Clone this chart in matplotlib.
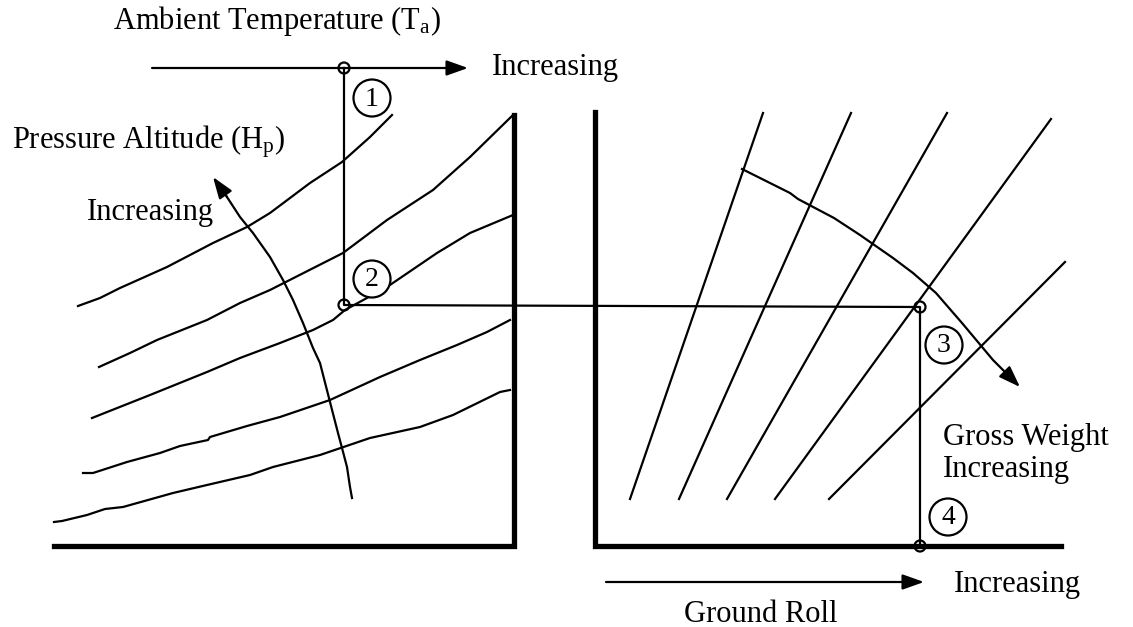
import matplotlib
matplotlib.use("Agg")
import matplotlib.pyplot as plt
from matplotlib.patches import Circle

plt.rcParams['font.family'] = ['Liberation Serif', 'DejaVu Serif']
plt.rcParams['mathtext.fontset'] = 'custom'
plt.rcParams['mathtext.rm'] = 'Liberation Serif'
plt.rcParams['mathtext.it'] = 'Liberation Serif:italic'

# --- data (pixel space of the sketch, y grows downwards) ---
# pressure altitude curves, left panel (top to bottom)
hp_curves = [
    ([78, 100, 120, 167, 213, 247, 270, 310, 342, 370, 392],
     [306, 298, 288, 267, 243, 227, 213, 183, 162, 137, 115]),
    ([99, 130, 157, 187, 207, 240, 270, 343, 387, 433, 470, 513],
     [367, 353, 340, 328, 320, 303, 290, 253, 220, 190, 157, 115]),
    ([92, 150, 207, 240, 280, 313, 333, 345, 387, 437, 470, 513],
     [418, 395, 372, 358, 343, 330, 320, 310, 287, 253, 233, 215]),
    ([83, 93, 127, 160, 180, 208, 210, 247, 280, 330, 380, 420, 457, 487, 510],
     [473, 473, 462, 453, 446, 440, 437, 426, 417, 400, 377, 360, 345, 332, 320]),
    ([54, 62, 87, 105, 123, 173, 207, 250, 273, 320, 370, 420, 453, 500, 510],
     [522, 521, 515, 509, 507, 493, 485, 475, 467, 455, 438, 427, 415, 392, 390]),
]
# "pressure altitude increasing" arrow, tail to head
hp_arrow_x = [352, 350, 347, 342, 338, 330, 320, 313, 303, 293, 283, 270, 253, 240, 227, 213]
hp_arrow_y = [498, 487, 467, 448, 433, 402, 363, 348, 323, 300, 280, 257, 233, 217, 197, 177]

# gross weight lines, right panel
gw_top_x = [763, 851, 947, 1051, 1065]
gw_top_y = [113, 113, 113, 119, 262]
gw_bot_x = [630, 679, 727, 775, 829]
gw_bot_y = [499, 499, 499, 499, 499]
# "gross weight increasing" arrow
gw_arrow_x = [742, 750, 790, 798, 834, 860, 893, 913, 936, 962, 993, 1008, 1020]
gw_arrow_y = [169, 173, 193, 199, 218, 235, 258, 273, 293, 323, 360, 375, 387]

# path through the chart: points 1 -> 2 -> 3 -> 4
path_x = [344, 344, 920, 920]
path_y = [68, 305, 307, 546]
step_labels = ['1', '2', '3', '4']
step_lab_x = [372, 372, 944, 948]
step_lab_y = [98, 279, 345, 517]

fig = plt.figure(figsize=(11.33, 6.27), dpi=100)
ax = fig.add_axes([0, 0, 1, 1])
ax.set_xlim(0, 1133)
ax.set_ylim(627, 0)
ax.axis('off')

thin = 1.6
thick = 3.8
fs = 22

def arrow(x0, y0, x1, y1):
    ax.annotate('', xy=(x1, y1), xytext=(x0, y0),
                arrowprops=dict(arrowstyle='-|>,head_length=0.9,head_width=0.32',
                                lw=thin, color='black', shrinkA=0, shrinkB=0,
                                mutation_scale=14.5))

# frames
ax.plot([514, 514, 54], [115, 546, 546], color='black', lw=thick, solid_joinstyle='miter')
ax.plot([595, 595, 1061], [112, 546, 546], color='black', lw=thick, solid_joinstyle='miter')

# curves
for cx, cy in hp_curves:
    ax.plot(cx, cy, color='black', lw=thin)
for x0, y0, x1, y1 in zip(gw_top_x, gw_top_y, gw_bot_x, gw_bot_y):
    ax.plot([x0, x1], [y0, y1], color='black', lw=thin)

ax.plot(hp_arrow_x[:-1], hp_arrow_y[:-1], color='black', lw=thin)
arrow(hp_arrow_x[-2], hp_arrow_y[-2], hp_arrow_x[-1], hp_arrow_y[-1])
ax.plot(gw_arrow_x[:-1], gw_arrow_y[:-1], color='black', lw=thin)
arrow(gw_arrow_x[-2], gw_arrow_y[-2], gw_arrow_x[-1], gw_arrow_y[-1])

# axis direction arrows
arrow(152, 68, 468, 68)
arrow(606, 582, 924, 582)

# solution path
ax.plot(path_x, path_y, color='black', lw=thin)
for px, py in zip(path_x, path_y):
    ax.add_patch(Circle((px, py), 5.5, fill=False, edgecolor='black', lw=thin, zorder=5))
for lab, lx, ly in zip(step_labels, step_lab_x, step_lab_y):
    ax.add_patch(Circle((lx, ly), 18.5, facecolor='white', edgecolor='black', lw=thin, zorder=4))
    ax.text(lx, ly + 1, lab, fontsize=20, ha='center', va='center', zorder=6)

# labels
ax.text(113, 29, r'Ambient Temperature (T$_\mathregular{a}$)', fontsize=fs, va='baseline')
ax.text(492, 75, 'Increasing', fontsize=fs, va='baseline')
ax.text(12, 148, r'Pressure Altitude (H$_\mathregular{p}$)', fontsize=fs, va='baseline')
ax.text(87, 220, 'Increasing', fontsize=fs, va='baseline')
ax.text(943, 445, 'Gross Weight', fontsize=fs, va='baseline')
ax.text(943, 477, 'Increasing', fontsize=fs, va='baseline')
ax.text(954, 592, 'Increasing', fontsize=fs, va='baseline')
ax.text(684, 622, 'Ground Roll', fontsize=fs, va='baseline')

fig.savefig('out.png', dpi=100, facecolor='white')
